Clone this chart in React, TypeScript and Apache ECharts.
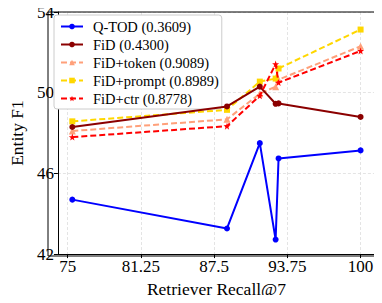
import React, { useEffect, useRef } from "react";
import * as echarts from "echarts";

const recall = [75.4, 88.6, 91.4, 92.75, 93.0, 100];
const xTicks = [75, 81.25, 87.5, 93.75, 100];
const qtod = [44.7, 43.27, 47.5, 42.72, 46.74, 47.14];
const fid = [48.3, 49.32, 50.3, 49.45, 49.47, 48.8];
const fidToken = [48.1, 48.68, 49.95, 50.3, 50.65, 52.3];
const fidPrompt = [48.58, 49.15, 50.55, 50.7, 51.2, 53.13];
const fidCtr = [47.8, 48.34, 49.85, 51.42, 50.5, 52.07];

const seriesNames = [
  "Q-TOD (0.3609)",
  "FiD (0.4300)",
  "FiD+token (0.9089)",
  "FiD+prompt (0.8989)",
  "FiD+ctr (0.8778)",
];

const FONT = "'Liberation Serif', 'Times New Roman', serif";
const STAR =
  "path://M0,-10 L2.35,-3.24 L9.51,-3.09 L3.8,1.24 L5.88,8.09 L0,4 L-5.88,8.09 L-3.8,1.24 L-9.51,-3.09 L-2.35,-3.24 Z";

export default function App() {
  const ref = useRef<HTMLDivElement>(null);
  useEffect(() => {
    if (!ref.current) return;
    const chart = echarts.init(ref.current, undefined, { renderer: "svg" });
    const pts = (ys: number[]) => recall.map((x, i) => [x, ys[i]]);
    const mk = (
      name: string,
      ys: number[],
      color: string,
      symbol: string,
      size: number,
      dashed: boolean,
      z: number
    ) => ({
      name,
      type: "line",
      data: pts(ys),
      symbol,
      symbolSize: size,
      showAllSymbol: true,
      z,
      itemStyle: { color },
      lineStyle: {
        color,
        width: 2,
        type: dashed ? [6, 3] : "solid",
      },
    });
    chart.setOption({
      animation: false,
      backgroundColor: "#fff",
      textStyle: { fontFamily: FONT },
      grid: { left: 48, right: 7, top: 12, bottom: 47, containLabel: false },
      legend: {
        orient: "vertical",
        left: 54,
        top: 15,
        padding: [4, 3, 3, 6],
        itemGap: 3,
        itemWidth: 22,
        itemHeight: 7,
        backgroundColor: "#fff",
        borderColor: "#ccc",
        borderWidth: 1,
        borderRadius: 3,
        textStyle: {
          fontFamily: FONT,
          fontSize: 14.5,
          color: "#000",
          padding: [0, 0, 0, 5],
        },
        data: seriesNames,
      },
      xAxis: {
        type: "value",
        min: 74.17,
        max: 101.23,
        name: "Retriever Recall@7",
        nameLocation: "middle",
        nameGap: 24,
        nameTextStyle: { fontFamily: FONT, fontSize: 17.5, color: "#000" },
        axisLine: { show: true, onZero: false, lineStyle: { color: "#000", width: 1 } },
        axisTick: {
          show: true,
          inside: false,
          length: 4,
          customValues: xTicks,
          lineStyle: { color: "#000" },
        },
        axisLabel: {
          customValues: xTicks,
          fontFamily: FONT,
          fontSize: 17,
          color: "#000",
          margin: 4,
        },
        splitLine: {
          show: true,
          lineStyle: { color: "#ddd", type: [3, 2], width: 0.8 },
        },
      },
      yAxis: {
        type: "value",
        min: 42,
        max: 54,
        interval: 4,
        name: "Entity F1",
        nameLocation: "middle",
        nameGap: 29,
        nameTextStyle: { fontFamily: FONT, fontSize: 17.5, color: "#000" },
        axisLine: { show: true, onZero: false, lineStyle: { color: "#000", width: 1 } },
        axisTick: { show: true, inside: false, length: 4, lineStyle: { color: "#000" } },
        axisLabel: { fontFamily: FONT, fontSize: 17, color: "#000", margin: 4 },
        splitLine: {
          show: true,
          lineStyle: { color: "#ddd", type: [3, 2], width: 0.8 },
        },
      },
      graphic: [
        {
          type: "rect",
          shape: { x: 48, y: 12, width: 327, height: 244 },
          style: { fill: "none", stroke: "#000", lineWidth: 1 },
          silent: true,
          z: 1,
        },
      ],
      series: [
        mk(seriesNames[0], qtod, "#0000ff", "circle", 6, false, 5),
        mk(seriesNames[1], fid, "#8b0000", "circle", 6, false, 6),
        mk(seriesNames[2], fidToken, "#ffa07a", "triangle", 7, true, 3),
        mk(seriesNames[3], fidPrompt, "#ffd700", "rect", 6, true, 4),
        mk(seriesNames[4], fidCtr, "#ff0000", STAR, 7, true, 7),
      ],
    });
    return () => chart.dispose();
  }, []);
  return <div ref={ref} style={{ width: 382, height: 303, margin: -8 }} />;
}
